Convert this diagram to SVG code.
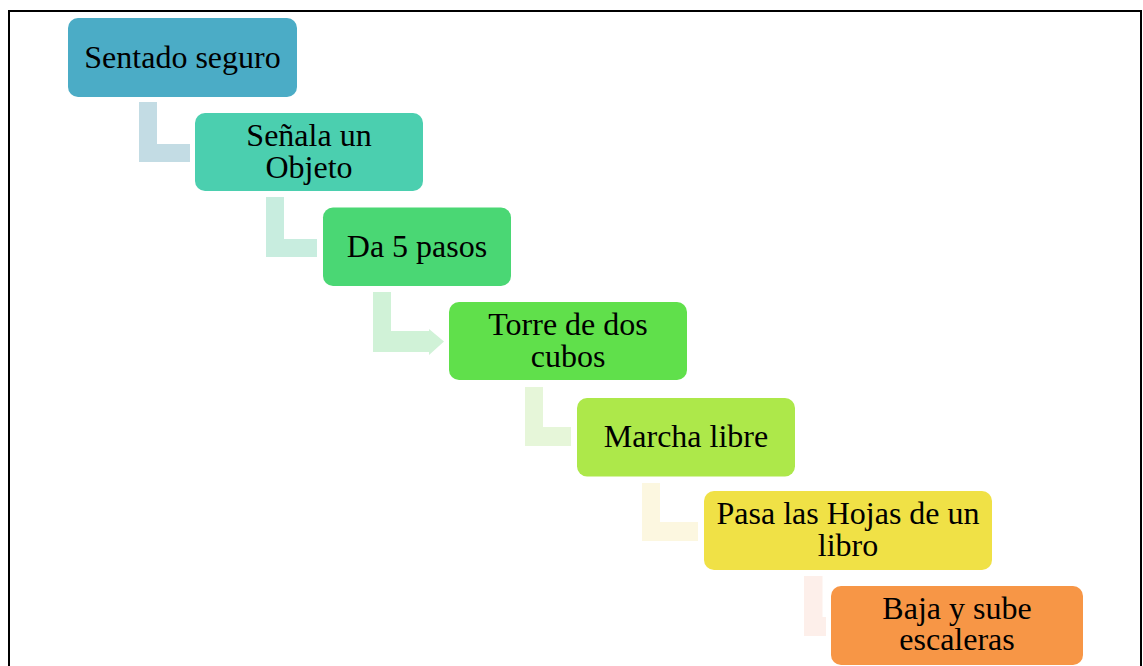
<svg xmlns="http://www.w3.org/2000/svg" width="1143" height="666" viewBox="0 0 1143 666">
<style>
.box{stroke:none}
.t{font-family:"Liberation Serif","Times New Roman",serif;font-size:32px;fill:#000;text-anchor:middle}
.c{stroke:none}
</style>
<rect x="0" y="0" width="1143" height="666" fill="#ffffff"/>
<rect x="9" y="11" width="1132" height="700" fill="none" stroke="#000" stroke-width="2"/>
<g id="connectors">
<path class="c" fill="#c3dce4" d="M139,102 H157 V144 H190 V162 H139 Z"/>
<path class="c" fill="#c8eddf" d="M266,197 H284 V239 H317 V257 H266 Z"/>
<path class="c" fill="#d0f2d7" d="M373,292 H391 V331 H429 V329 L444,341.5 L429,355 V352 H373 Z"/>
<path class="c" fill="#e6f6d9" d="M525,387 H543 V427 H571 V446 H525 Z"/>
<path class="c" fill="#fcf7e0" d="M642,483 H660 V522 H698 V541 H642 Z"/>
<path class="c" fill="#fdefea" d="M804,576 H822.5 V617 H826 V636 H804 Z"/>
</g>
<g id="n1"><rect class="box" x="68" y="18" width="229" height="79" rx="10" fill="#4bacc6"/>
<text class="t" x="182.5" y="68">Sentado seguro</text></g>
<g id="n2"><rect class="box" x="195" y="113" width="228" height="78" rx="10" fill="#4bcfaf"/>
<text class="t" x="309" y="145.5">Señala un</text><text class="t" x="309" y="177.5">Objeto</text></g>
<g id="n3"><rect class="box" x="323" y="207.5" width="188" height="78.5" rx="10" fill="#4ad774"/>
<text class="t" x="417" y="257">Da 5 pasos</text></g>
<g id="n4"><rect class="box" x="449" y="302" width="238" height="78" rx="10" fill="#60e04b"/>
<text class="t" x="568" y="334.5">Torre de dos</text><text class="t" x="568" y="366.5">cubos</text></g>
<g id="n5"><rect class="box" x="577" y="398" width="218" height="78.5" rx="10" fill="#ade84a"/>
<text class="t" x="686" y="447">Marcha libre</text></g>
<g id="n6"><rect class="box" x="704" y="491" width="288" height="79" rx="10" fill="#f0e146"/>
<text class="t" x="848" y="523.5">Pasa las Hojas de un</text><text class="t" x="848" y="556">libro</text></g>
<g id="n7"><rect class="box" x="831" y="586" width="252" height="79" rx="10" fill="#f79646"/>
<text class="t" x="957" y="618.5">Baja y sube</text><text class="t" x="957" y="650">escaleras</text></g>
</svg>
